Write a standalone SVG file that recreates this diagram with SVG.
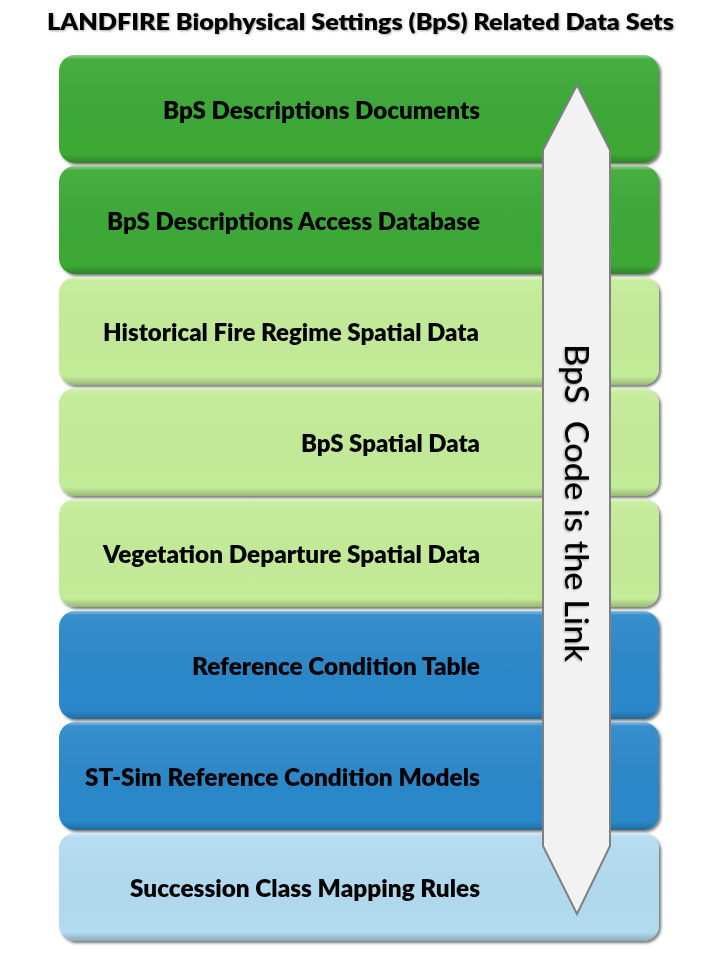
<svg xmlns="http://www.w3.org/2000/svg" width="720" height="960" viewBox="0 0 720 960">
  <defs>
    <filter id="boxShadow" x="-5%" y="-10%" width="110%" height="125%">
      <feGaussianBlur in="SourceAlpha" stdDeviation="1.5"/>
      <feOffset dx="1.5" dy="2" result="b"/>
      <feComponentTransfer><feFuncA type="linear" slope="0.55"/></feComponentTransfer>
      <feMerge><feMergeNode/><feMergeNode in="SourceGraphic"/></feMerge>
    </filter>
    <filter id="textShadow" x="-5%" y="-30%" width="110%" height="160%">
      <feGaussianBlur in="SourceAlpha" stdDeviation="0.8"/>
      <feOffset dx="1.2" dy="1.2" result="b"/>
      <feComponentTransfer><feFuncA type="linear" slope="0.35"/></feComponentTransfer>
      <feMerge><feMergeNode/><feMergeNode in="SourceGraphic"/></feMerge>
    </filter>
    <linearGradient id="bevel" x1="0" y1="0" x2="0" y2="1">
      <stop offset="0" stop-color="#ffffff" stop-opacity="0.45"/>
      <stop offset="0.04" stop-color="#ffffff" stop-opacity="0.06"/>
      <stop offset="0.92" stop-color="#000000" stop-opacity="0"/>
      <stop offset="1" stop-color="#000000" stop-opacity="0.22"/>
    </linearGradient>
  </defs>
  <style>
    .box { stroke: none; }
    .bev { fill: url(#bevel); }
    .dg { fill: #3ca936; }
    .lg { fill: #c3ec98; }
    .db { fill: #2b88ca; }
    .lb { fill: #b2dbf0; }
    .lbl { font-family: Lato, "Open Sans", "Liberation Sans", sans-serif; font-weight: 800; font-size: 24px; fill: #000000; text-anchor: end; }
    .title { font-family: Lato, "Open Sans", "Liberation Sans", sans-serif; font-weight: 800; font-size: 23px; fill: #000000; text-anchor: middle; }
    .vert { font-family: Lato, "Open Sans", "Liberation Sans", sans-serif; font-weight: 500; font-size: 32px; fill: #000000; }
  </style>

  <rect x="0" y="0" width="720" height="960" fill="#ffffff"/>

  <text id="title" class="title" x="360.5" y="30" textLength="627" lengthAdjust="spacingAndGlyphs" filter="url(#textShadow)">LANDFIRE Biophysical Settings (BpS) Related Data Sets</text>

  <g id="box1" filter="url(#boxShadow)">
    <rect class="box dg" x="59" y="55" width="600" height="108" rx="16"/>
    <rect class="bev" x="59" y="55" width="600" height="108" rx="16"/>
    <text class="lbl" x="480" y="119" textLength="317" lengthAdjust="spacingAndGlyphs">BpS Descriptions Documents</text>
  </g>
  <g id="box2" filter="url(#boxShadow)">
    <rect class="box dg" x="59" y="166" width="600" height="108" rx="16"/>
    <rect class="bev" x="59" y="166" width="600" height="108" rx="16"/>
    <text class="lbl" x="480" y="230" textLength="373" lengthAdjust="spacingAndGlyphs">BpS Descriptions Access Database</text>
  </g>
  <g id="box3" filter="url(#boxShadow)">
    <rect class="box lg" x="59" y="277" width="600" height="108" rx="16"/>
    <rect class="bev" x="59" y="277" width="600" height="108" rx="16"/>
    <text class="lbl" x="479" y="341" textLength="376" lengthAdjust="spacingAndGlyphs">Historical Fire Regime Spatial Data</text>
  </g>
  <g id="box4" filter="url(#boxShadow)">
    <rect class="box lg" x="59" y="388" width="600" height="108" rx="16"/>
    <rect class="bev" x="59" y="388" width="600" height="108" rx="16"/>
    <text class="lbl" x="480" y="452" textLength="179" lengthAdjust="spacingAndGlyphs">BpS Spatial Data</text>
  </g>
  <g id="box5" filter="url(#boxShadow)">
    <rect class="box lg" x="59" y="499" width="600" height="108" rx="16"/>
    <rect class="bev" x="59" y="499" width="600" height="108" rx="16"/>
    <text class="lbl" x="480" y="563" textLength="377" lengthAdjust="spacingAndGlyphs">Vegetation Departure Spatial Data</text>
  </g>
  <g id="box6" filter="url(#boxShadow)">
    <rect class="box db" x="59" y="611" width="600" height="108" rx="16"/>
    <rect class="bev" x="59" y="611" width="600" height="108" rx="16"/>
    <text class="lbl" x="480" y="675" textLength="288" lengthAdjust="spacingAndGlyphs">Reference Condition Table</text>
  </g>
  <g id="box7" filter="url(#boxShadow)">
    <rect class="box db" x="59" y="722" width="600" height="108" rx="16"/>
    <rect class="bev" x="59" y="722" width="600" height="108" rx="16"/>
    <text class="lbl" x="480" y="786" textLength="395" lengthAdjust="spacingAndGlyphs">ST-Sim Reference Condition Models</text>
  </g>
  <g id="box8" filter="url(#boxShadow)">
    <rect class="box lb" x="59" y="833" width="600" height="108" rx="16"/>
    <rect class="bev" x="59" y="833" width="600" height="108" rx="16"/>
    <text class="lbl" x="480" y="897" textLength="350" lengthAdjust="spacingAndGlyphs">Succession Class Mapping Rules</text>
  </g>

  <g id="connectors">
    <g id="link-arrow">
      <polygon points="577,85 610,150 610,846 577,914 543,846 543,150" fill="#f2f2f2" stroke="#808080" stroke-width="2" stroke-linejoin="miter"/>
      <text class="vert" x="0" y="0" xml:space="preserve" transform="translate(565,344) rotate(90)" textLength="318" lengthAdjust="spacingAndGlyphs" filter="url(#textShadow)">BpS  Code is the Link</text>
    </g>
  </g>
</svg>
